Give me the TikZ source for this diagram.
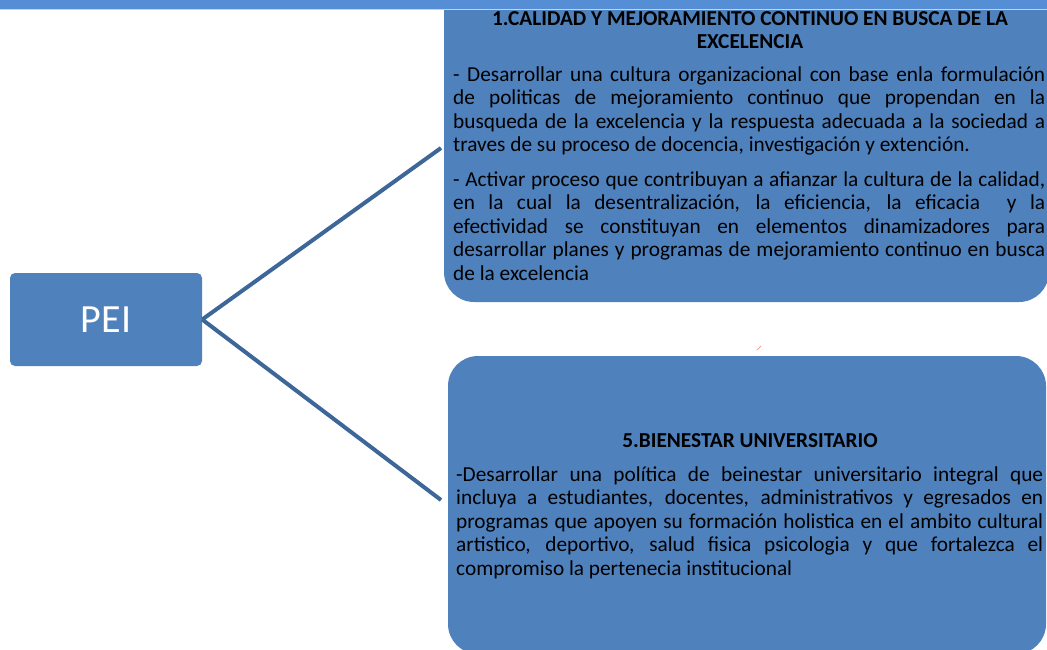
\documentclass[tikz,border=0pt]{standalone}
\usepackage{fontspec}
\setmainfont{Carlito}
\definecolor{boxblue}{HTML}{4F81BD}
\definecolor{barblue}{HTML}{558ED5}
\definecolor{linkblue}{HTML}{3D6699}
\definecolor{barline}{HTML}{C8D3E0}
\newcommand{\bodyfont}{\fontsize{21.3}{23.6}\selectfont\hyphenpenalty=10000\tolerance=10000\emergencystretch=0pt}
\tikzset{
  blockbox/.style={fill=boxblue, draw=none, rounded corners=30pt},
  link/.style={draw=linkblue, line width=4pt},
  bodytext/.style={anchor=base west, inner sep=0pt, text=black},
  titletext/.style={anchor=base, inner sep=0pt, text=black, font=\fontsize{21.3}{22}\selectfont\bfseries},
}
\begin{document}
\begin{tikzpicture}[x=1pt, y=-1pt]
\useasboundingbox (0,0) rectangle (1047,649);
\clip (0,0) rectangle (1047,649);
% boxes
\fill[blockbox] (444,-60) rectangle (1049,302);
\fill[blockbox] (448,356) rectangle (1046,654);
% top bar
\fill[barblue] (0,0) rectangle (1047,9);
\draw[barline, line width=1pt] (0,9.5) -- (1047,9.5);
% PEI
\node[fill=boxblue, rounded corners=5pt, minimum width=192pt, minimum height=93pt, inner sep=0pt,
      text=white, font=\fontsize{40}{42}\selectfont] (pei) at (106,319.5) {PEI};
\coordinate (e1) at (441,148);
\coordinate (e2) at (441,500);
\draw[link] (pei.east) -- (e1);
\draw[link] (pei.east) -- (e2);
% box 1 texts
\node[titletext] (t1a) at (750,25) {1.CALIDAD Y MEJORAMIENTO CONTINUO EN BUSCA DE LA};
\node[titletext] (t1b) at (750,48) {EXCELENCIA};
\node[bodytext] (p1) at (453,81) {\parbox[t]{592pt}{\bodyfont - Desarrollar una cultura organizacional con base enla formulación\linebreak de politicas de mejoramiento continuo que propendan en la\linebreak busqueda de la excelencia y la respuesta adecuada a la sociedad a\linebreak traves de su proceso de docencia, investigación y extención.}};
\node[bodytext] (p2) at (453,186) {\parbox[t]{592pt}{\bodyfont - Activar proceso que contribuyan a afianzar la cultura de la calidad,\linebreak en la cual la desentralización, la eficiencia, la eficacia~ y la\linebreak efectividad se constituyan en elementos dinamizadores para\linebreak desarrollar planes y programas de mejoramiento continuo en busca\linebreak de la excelencia}};
% box 2 texts
\node[titletext] (t2) at (750,447) {5.BIENESTAR UNIVERSITARIO};
\node[bodytext] (p3) at (456,481) {\parbox[t]{587pt}{\bodyfont -Desarrollar una política de beinestar universitario integral que\linebreak incluya a estudiantes, docentes, administrativos y egresados en\linebreak programas que apoyen su formación holistica en el ambito cultural\linebreak artistico, deportivo, salud fisica psicologia y que fortalezca el\linebreak compromiso la pertenecia institucional}};
% stray mark
\draw[red!40, line width=1pt] (757,350) -- (761,346);
\end{tikzpicture}
\end{document}
